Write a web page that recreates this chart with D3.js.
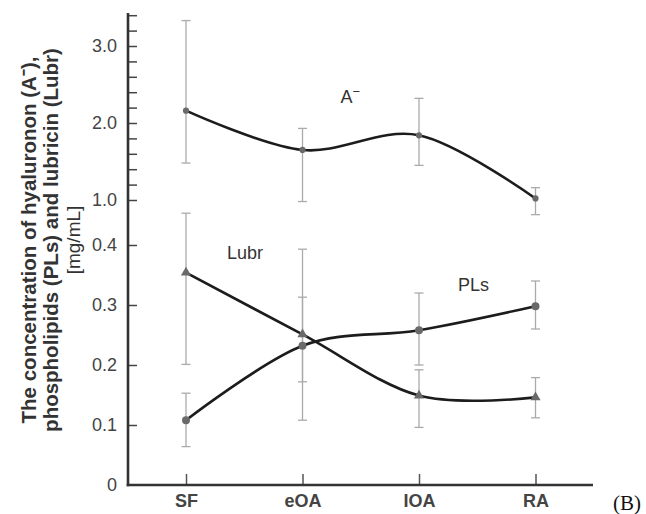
<!DOCTYPE html>
<html>
<head>
<meta charset="utf-8">
<script src="https://cdn.jsdelivr.net/npm/d3@7"></script>
<style>
  body { margin: 0; background: #fff; }
  svg { display: block; font-family: "Liberation Sans", Arial, sans-serif; }
  .tick text { fill: #444; font-size: 18px; }
</style>
</head>
<body>
<div id="chart"></div>
<script>
// groups on the x axis
const GROUPS = ["SF", "eOA", "IOA", "RA"];

// hyaluronon (upper axis part, mg/mL)
const HA_MEAN = [2.16, 1.65, 1.84, 1.02];
const HA_HIGH = [3.33, 1.93, 2.32, 1.16];
const HA_LOW  = [1.48, 0.98, 1.45, 0.81];

// phospholipids (lower axis part)
const PL_MEAN = [0.108, 0.232, 0.258, 0.298];
const PL_HIGH = [0.153, 0.313, 0.320, 0.340];
const PL_LOW  = [0.064, 0.172, 0.200, 0.260];

// lubricin (lower axis part)
const LUB_MEAN = [0.354, 0.251, 0.149, 0.146];
const LUB_HIGH = [0.453, 0.393, 0.192, 0.179];
const LUB_LOW  = [0.201, 0.108, 0.096, 0.112];

const LOW_TICKS = [0, 0.1, 0.2, 0.3, 0.4];
const UP_TICKS = [1.0, 1.2, 1.4, 1.6, 1.8, 2.0, 2.2, 2.4, 2.6, 2.8, 3.0, 3.2, 3.4];
const UP_LABELS = [1.0, 2.0, 3.0];

const W = 646, H = 514;
const AXIS_X = 128, AXIS_Y = 485;

const svg = d3.select("#chart").append("svg")
    .attr("width", W).attr("height", H);

const x = d3.scalePoint().domain(GROUPS).range([186, 535.5]);
const yLow = d3.scaleLinear().domain([0, 0.4]).range([AXIS_Y, 245]);
const yUp = d3.scaleLinear().domain([1, 3]).range([200, 46]);

// y axis: two stacked parts
const axLow = svg.append("g").attr("transform", `translate(${AXIS_X},0)`)
    .call(d3.axisLeft(yLow).tickValues(LOW_TICKS).tickSizeInner(-9).tickSizeOuter(0)
      .tickPadding(11).tickFormat(v => v === 0 ? "0" : d3.format(".1f")(v)));
const axUp = svg.append("g").attr("transform", `translate(${AXIS_X},0)`)
    .call(d3.axisLeft(yUp).tickValues(UP_TICKS).tickSizeInner(-9).tickSizeOuter(0)
      .tickPadding(11).tickFormat(v => UP_LABELS.includes(v) ? d3.format(".1f")(v) : ""));
[axLow, axUp].forEach(a => {
  a.select(".domain").remove();
  a.selectAll(".tick line").attr("stroke", "#444").attr("stroke-width", 1.5);
});
axLow.selectAll(".tick").filter(d => d === 0).select("line").remove();

svg.append("line")
    .attr("x1", AXIS_X).attr("x2", AXIS_X)
    .attr("y1", AXIS_Y + 1.2).attr("y2", yUp(3.43))
    .attr("stroke", "#333").attr("stroke-width", 2.6);

// x axis
const axX = svg.append("g").attr("transform", `translate(0,${AXIS_Y})`)
    .call(d3.axisBottom(x).tickSizeInner(-11).tickSizeOuter(0).tickPadding(9));
axX.select(".domain").remove();
axX.selectAll(".tick line").attr("stroke", "#555").attr("stroke-width", 1.5);
axX.selectAll(".tick text").attr("fill", "#333").attr("font-size", "16.5px")
    .attr("font-weight", "bold").attr("dy", "0.74em");
svg.append("line")
    .attr("x1", AXIS_X - 1.3).attr("x2", 593)
    .attr("y1", AXIS_Y).attr("y2", AXIS_Y)
    .attr("stroke", "#333").attr("stroke-width", 2.6);

// series
const SERIES = [
  { mean: HA_MEAN, hi: HA_HIGH, lo: HA_LOW, y: yUp, mark: "dot" },
  { mean: PL_MEAN, hi: PL_HIGH, lo: PL_LOW, y: yLow, mark: "circle" },
  { mean: LUB_MEAN, hi: LUB_HIGH, lo: LUB_LOW, y: yLow, mark: "triangle" }
];

const errG = svg.append("g").attr("stroke", "#aaa").attr("stroke-width", 1.3);
const lineG = svg.append("g");
const markG = svg.append("g").attr("fill", "#6a6a6a");

SERIES.forEach(s => {
  const pts = GROUPS.map((g, i) => ({ g, v: s.mean[i], hi: s.hi[i], lo: s.lo[i] }));

  const eb = errG.selectAll(null).data(pts).enter().append("g");
  eb.append("line").attr("x1", d => x(d.g)).attr("x2", d => x(d.g))
      .attr("y1", d => s.y(d.hi)).attr("y2", d => s.y(d.lo));
  eb.append("line").attr("x1", d => x(d.g) - 4.5).attr("x2", d => x(d.g) + 4.5)
      .attr("y1", d => s.y(d.hi)).attr("y2", d => s.y(d.hi));
  eb.append("line").attr("x1", d => x(d.g) - 4.5).attr("x2", d => x(d.g) + 4.5)
      .attr("y1", d => s.y(d.lo)).attr("y2", d => s.y(d.lo));

  lineG.append("path").datum(pts)
      .attr("fill", "none").attr("stroke", "#1c1c1c").attr("stroke-width", 2.6)
      .attr("d", d3.line().x(d => x(d.g)).y(d => s.y(d.v)).curve(d3.curveCardinal));

  const sym = s.mark === "triangle" ? d3.symbolTriangle : d3.symbolCircle;
  const sz = s.mark === "circle" ? 50 : s.mark === "triangle" ? 45 : 30;
  markG.selectAll(null).data(pts).enter().append("path")
      .attr("transform", d => `translate(${x(d.g)},${s.y(d.v)})`)
      .attr("d", d3.symbol().type(sym).size(sz));
});

// series labels
const lab = svg.append("g").attr("fill", "#333").attr("font-size", "18px");
const ha = lab.append("text").attr("x", x("eOA") + 38).attr("y", 103).text("A");
ha.append("tspan").attr("dy", -7).attr("font-size", "13px").text("−");
lab.append("text").attr("x", 227).attr("y", 259).text("Lubr");
lab.append("text").attr("x", 458).attr("y", 291).text("PLs");

// y title
const title = svg.append("text").attr("transform", "translate(0,240) rotate(-90)")
    .attr("text-anchor", "middle").attr("fill", "#333");
title.append("tspan").attr("x", 0).attr("y", 36).attr("font-size", "20.5px")
    .attr("font-weight", "bold").text("The concentration of hyaluronon (A⁻),");
title.append("tspan").attr("x", 0).attr("y", 58).attr("font-size", "20.5px")
    .attr("font-weight", "bold").text("phospholipids (PLs) and lubricin (Lubr)");
title.append("tspan").attr("x", 0).attr("y", 80).attr("font-size", "19px")
    .text("[mg/mL]");

// panel tag
svg.append("text").attr("x", 613).attr("y", 510)
    .attr("font-family", "'Liberation Serif', 'Times New Roman', serif")
    .attr("font-size", "21px").attr("fill", "#111").text("(B)");
</script>
</body>
</html>
